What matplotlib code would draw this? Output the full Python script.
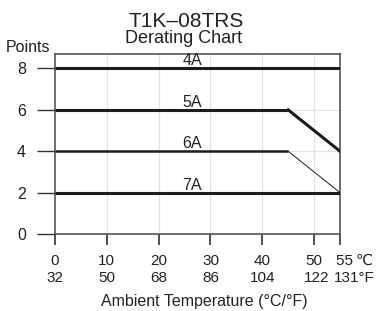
import matplotlib.pyplot as plt

plt.rcParams['font.family'] = ['Liberation Sans', 'DejaVu Sans']

# data
temps_c = [0, 10, 20, 30, 40, 50, 55]
temps_f = [32, 50, 68, 86, 104, 122, 131]
curve_names = ["4A", "5A", "6A", "7A"]
curve_x = [[0, 55], [0, 45, 55], [0, 45, 55], [0, 55]]
curve_y = [[8, 8], [6, 6, 4], [4, 4, 2], [2, 2]]
y_ticks = [0, 2, 4, 6, 8]
label_at = 26.5

W, H = 376, 311
fig = plt.figure(figsize=(W / 100, H / 100), dpi=100)
ax = fig.add_axes([55 / W, 1 - 234 / H, 285 / W, 180 / H])

ax.set_xlim(0, 55)
ax.set_ylim(0, 8.7)

for v in temps_c[1:-1]:
    ax.axvline(v, color='#e2e2e2', lw=0.9, zorder=0)
for v in y_ticks[1:]:
    ax.axhline(v, color='#e2e2e2', lw=0.9, zorder=0)

dark = '#1c1c1c'
txt = '#222222'
fs = 11.5
xfs = 11
for name, xs, ys in zip(curve_names, curve_x, curve_y):
    w0 = 1.8 if name == "6A" else 2.2
    ax.plot(xs[:2], ys[:2], color=dark, lw=w0, solid_capstyle='butt', zorder=3)
    if len(xs) > 2:
        # 6A tail is drawn thin
        w = 0.7 if name == "6A" else 2.2
        ax.plot(xs[1:], ys[1:], color=dark, lw=w, zorder=3)
    ax.text(label_at, ys[0] + 0.15, name, ha='center', va='baseline',
            fontsize=fs, color=txt)

for s in ax.spines.values():
    s.set_color('#555555')
    s.set_linewidth(1.2)

ax.set_yticks(y_ticks)
ax.set_yticklabels([str(v) for v in y_ticks], fontsize=fs, color=txt)
ax.tick_params(axis='y', length=13, width=1.0, color='#333333', pad=8)

ax.set_xticks(temps_c)
ax.set_xticklabels([])
ax.tick_params(axis='x', length=8, width=1.2, color='#333333')

to_px = lambda c: 55 + c * 285 / 55
for c, f in zip(temps_c, temps_f):
    x = to_px(c)
    if c == 55:
        fig.text(373 / W, 1 - 265 / H, "55\u2009\u2103", ha='right', va='baseline',
                 fontsize=xfs, color=txt)
        fig.text(375 / W, 1 - 282 / H, "131\u00b0F", ha='right', va='baseline',
                 fontsize=xfs, color=txt)
    else:
        fx = x + 3 if c == 50 else x
        fig.text(x / W, 1 - 265 / H, str(c), ha='center', va='baseline',
                 fontsize=xfs, color=txt)
        fig.text(fx / W, 1 - 282 / H, str(f), ha='center', va='baseline',
                 fontsize=xfs, color=txt)

fig.text(204 / W, 1 - 306 / H, "Ambient Temperature (\u00b0C/\u00b0F)", ha='center',
         va='baseline', fontsize=11.5, color=txt)
fig.text(186 / W, 1 - 27 / H, "T1K\u201308TRS", ha='center', va='baseline',
         fontsize=15, color=txt)
fig.text(184 / W, 1 - 43 / H, "Derating Chart", ha='center', va='baseline',
         fontsize=13, color=txt)
fig.text(6 / W, 1 - 52 / H, "Points", ha='left', va='baseline',
         fontsize=11.5, color=txt)

fig.savefig("out.png", dpi=100)
